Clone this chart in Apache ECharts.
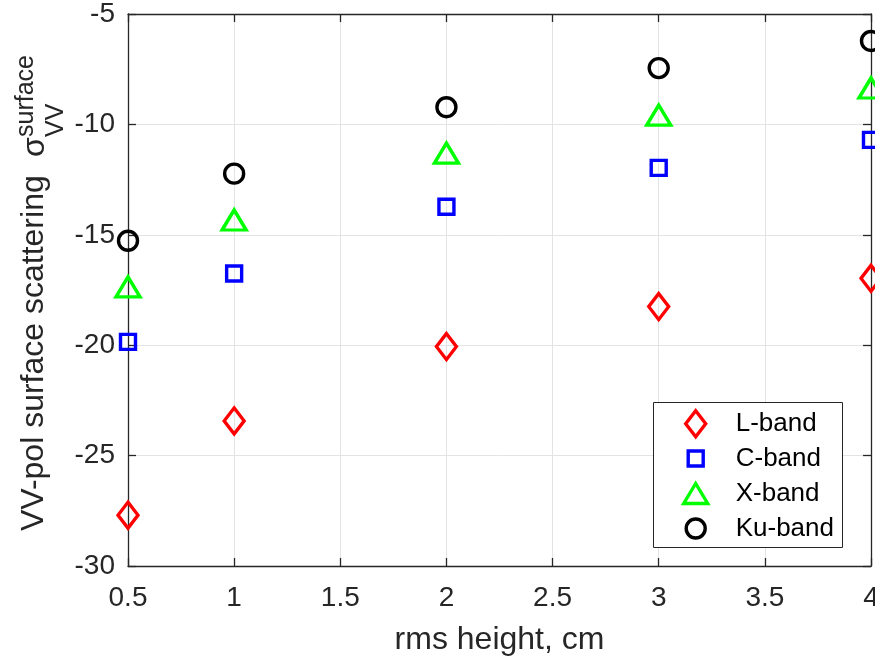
<!DOCTYPE html>
<html>
<head>
<meta charset="utf-8">
<script src="https://cdn.jsdelivr.net/npm/echarts@6/dist/echarts.min.js"></script>
<style>
html,body{margin:0;padding:0;background:#fff;}
#chart{width:875px;height:660px;}
</style>
</head>
<body>
<div id="chart"></div>
<script>
// ---- data ----
const rmsHeight = [0.5, 1, 2, 3, 4];
const lBand  = [-27.7, -23.43, -20.06, -18.25, -16.97];
const cBand  = [-19.85, -16.75, -13.73, -11.97, -10.7];
const xBand  = [-17.36, -14.33, -11.3, -9.58, -8.35];
const kuBand = [-15.27, -12.23, -9.22, -7.45, -6.22];
const seriesNames = ['L-band', 'C-band', 'X-band', 'Ku-band'];
const xTicks = {min: 0.5, max: 4, step: 0.5};
const yTicks = {min: -30, max: -5, step: 5};

const FONT = '"Liberation Sans", Arial, Helvetica, sans-serif';
const TXT = '#262626';

function pairs(ys) { return rmsHeight.map((x, i) => [x, ys[i]]); }

const styles = [
  {color: '#ff0000', symbol: 'path://M0,-13L10,0L0,13L-10,0Z', size: [20, 26]},
  {color: '#0000ff', symbol: 'rect', size: [15, 15]},
  {color: '#00ff00', symbol: 'path://M0,-10L12,10L-12,10Z', size: [24, 20]},
  {color: '#000000', symbol: 'circle', size: [19, 19]}
];
const values = [lBand, cBand, xBand, kuBand];

const series = seriesNames.map((name, i) => ({
  name: name,
  type: 'scatter',
  xAxisIndex: 0, yAxisIndex: 0,
  symbol: styles[i].symbol,
  symbolSize: styles[i].size,
  clip: false,
  itemStyle: {color: 'rgba(0,0,0,0)', borderColor: styles[i].color, borderWidth: 3.4, opacity: 1},
  emphasis: {disabled: true},
  data: pairs(values[i])
}));

// legend, one component per row so every icon keeps its own size
const rowCenters = [422, 457, 492, 527];
const iconCx = 694, textX = 734, textH = 23;
const legends = seriesNames.map((name, i) => {
  const w = styles[i].size[0], h = styles[i].size[1];
  const left = iconCx - w / 2;
  return {
    show: true,
    data: [name],
    orient: 'vertical',
    left: left,
    top: rowCenters[i] - Math.max(h, textH) / 2,
    padding: 0,
    itemWidth: w,
    itemHeight: h,
    symbolKeepAspect: false,
    selectedMode: false,
    itemStyle: {borderWidth: 3.4, borderColor: styles[i].color, color: 'rgba(0,0,0,0)', opacity: 1},
    textStyle: {fontFamily: FONT, fontSize: 26, color: '#000', lineHeight: 12,
                padding: [0, 0, 0, textX - (left + w + 5)]}
  };
});

const axisCommon = {
  type: 'value',
  axisLine: {show: true, onZero: false, lineStyle: {color: TXT, width: 1.3}},
  axisTick: {show: true, inside: true, length: 8, lineStyle: {color: TXT, width: 1.3}},
};

const option = {
  animation: false,
  backgroundColor: '#ffffff',
  grid: {left: 128, right: 4, top: 14, bottom: 94, containLabel: false, outerBoundsMode: 'none'},
  xAxis: [
    Object.assign({}, axisCommon, {
      position: 'bottom', min: xTicks.min, max: xTicks.max, interval: xTicks.step,
      name: 'rms height, cm', nameLocation: 'middle', nameGap: 58,
      nameTextStyle: {fontFamily: FONT, fontSize: 32, color: TXT},
      axisLabel: {fontFamily: FONT, fontSize: 28, color: TXT, margin: 18},
      splitLine: {show: true, lineStyle: {color: '#e3e3e3', width: 1}}
    }),
    Object.assign({}, axisCommon, {
      position: 'top', min: xTicks.min, max: xTicks.max, interval: xTicks.step,
      axisLabel: {show: false}, splitLine: {show: false}
    })
  ],
  yAxis: [
    Object.assign({}, axisCommon, {
      position: 'left', min: yTicks.min, max: yTicks.max, interval: yTicks.step,
      axisLabel: {fontFamily: FONT, fontSize: 28, color: TXT, margin: 13},
      splitLine: {show: true, lineStyle: {color: '#e3e3e3', width: 1}}
    }),
    Object.assign({}, axisCommon, {
      position: 'right', min: yTicks.min, max: yTicks.max, interval: yTicks.step,
      axisLabel: {show: false}, splitLine: {show: false}
    })
  ],
  legend: legends,
  graphic: [
    {type: 'rect', z: 3, shape: {x: 653.5, y: 402.5, width: 189, height: 145},
     style: {fill: '#ffffff', stroke: '#262626', lineWidth: 1}},
    {type: 'text', x: 34, y: 531, rotation: Math.PI / 2, z: 5,
     style: {text: 'VV-pol surface scattering', font: '32px ' + FONT, fill: TXT,
             align: 'left', verticalAlign: 'middle', textAlign: 'left', textVerticalAlign: 'middle'}},
    {type: 'text', x: 35, y: 157, rotation: Math.PI / 2, z: 5,
     style: {text: 'σ', font: '32px ' + FONT, fill: TXT,
             align: 'left', verticalAlign: 'middle', textAlign: 'left', textVerticalAlign: 'middle'}},
    {type: 'text', x: 56, y: 137, rotation: Math.PI / 2, z: 5,
     style: {text: 'VV', font: '25px ' + FONT, fill: TXT,
             align: 'left', verticalAlign: 'middle', textAlign: 'left', textVerticalAlign: 'middle'}},
    {type: 'text', x: 26, y: 137, rotation: Math.PI / 2, z: 5,
     style: {text: 'surface', font: '25px ' + FONT, fill: TXT,
             align: 'left', verticalAlign: 'middle', textAlign: 'left', textVerticalAlign: 'middle'}}
  ],
  series: series
};

const chart = echarts.init(document.getElementById('chart'), null, {renderer: 'canvas'});
chart.setOption(option);
</script>
</body>
</html>
